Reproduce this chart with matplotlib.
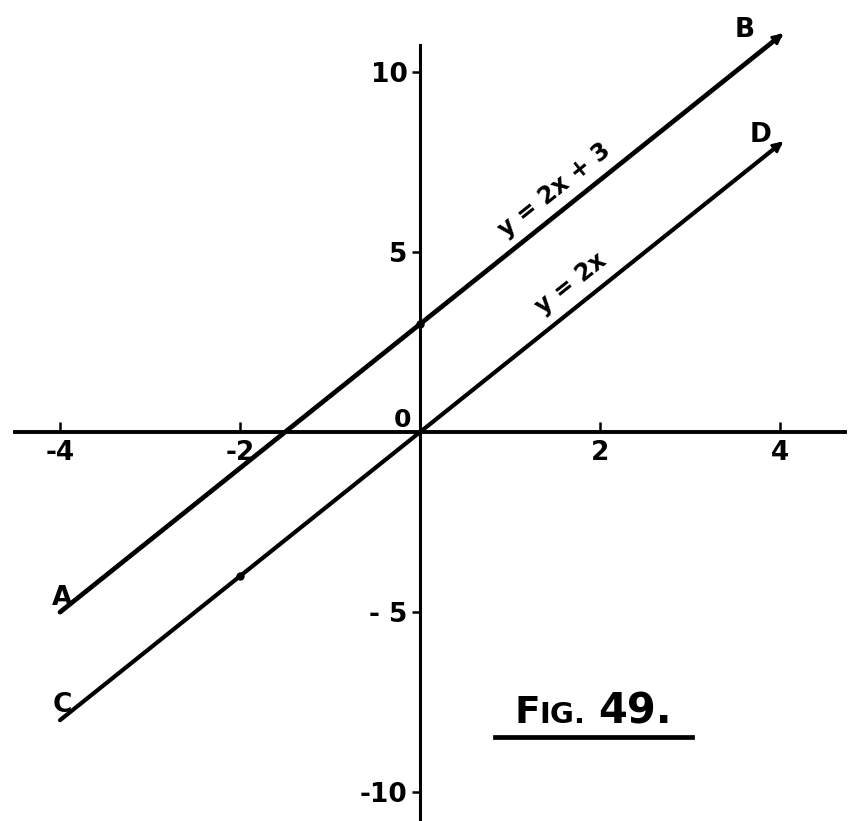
import numpy as np
import matplotlib.pyplot as plt

# two parallel lines from the figure
x_ends = [-4, 4]
y_ab = [-5, 11]     # y = 2x + 3
y_cd = [-8, 8]      # y = 2x
dot_x = [0, -2]
dot_y = [3, -4]

x_ticks = [-4, -2, 2, 4]
x_ticklabels = ['-4', '-2', '2', '4']
y_ticks = [-10, -5, 5, 10]
y_ticklabels = ['-10', '- 5', '5', '10']

plt.rcParams['font.family'] = ['DejaVu Sans']

fig = plt.figure(figsize=(8.5, 8.21), dpi=100)
ax = fig.add_axes([0, 0, 1, 1])
ax.set_xlim(-4.667, 4.778)
ax.set_ylim(-10.8, 12.0)

for s in ['top', 'right']:
    ax.spines[s].set_visible(False)
ax.spines['left'].set_position(('data', 0))
ax.spines['bottom'].set_position(('data', 0))
ax.spines['left'].set_bounds(-10.8, 10.75)
ax.spines['bottom'].set_bounds(-4.5, 4.72)
ax.spines['left'].set_linewidth(2.2)
ax.spines['bottom'].set_linewidth(2.8)

ax.set_xticks(x_ticks, x_ticklabels)
ax.set_yticks(y_ticks, y_ticklabels)
ax.tick_params(axis='x', direction='in', length=7, width=1.8, pad=6, labelsize=19)
ax.tick_params(axis='y', direction='out', length=6, width=1.8, pad=3, labelsize=19)
for lab in ax.get_xticklabels() + ax.get_yticklabels():
    lab.set_fontweight('bold')

ax.plot(x_ends, y_ab, color='black', lw=3.4, solid_capstyle='round')
ax.plot(x_ends, y_cd, color='black', lw=3.0, solid_capstyle='round')
ax.plot(dot_x, dot_y, 'o', color='black', ms=5)

# arrowheads at B and D
for ys in (y_ab, y_cd):
    ax.annotate('', xy=(x_ends[1] + 0.06, ys[1] + 0.12), xytext=(x_ends[1] - 0.2, ys[1] - 0.4),
                arrowprops=dict(arrowstyle='-|>', color='black', lw=2, mutation_scale=15))

# point labels
lab_kw = dict(fontsize=19, ha='center', va='center', fontweight='bold')
ax.text(-3.98, -4.6, 'A', **lab_kw)
ax.text(3.61, 11.17, 'B', **lab_kw)
ax.text(-3.97, -7.58, 'C', **lab_kw)
ax.text(3.78, 8.25, 'D', **lab_kw)
ax.text(-0.19, 0.33, '0', fontsize=18, ha='center', va='center', fontweight='bold')

# equations along the lines
ang = np.degrees(np.arctan2(2 * 36, 90))
ax.text(1.5, 6.72, 'y = 2x + 3', fontsize=17, rotation=ang, ha='center', va='center',
        rotation_mode='anchor', fontweight='bold')
ax.text(1.68, 4.12, 'y = 2x', fontsize=17, rotation=ang, ha='center', va='center',
        rotation_mode='anchor', fontweight='bold')

# figure caption
ax.text(1.05, -8.08, 'F', fontsize=27, ha='left', va='baseline', fontweight='bold')
ax.text(1.33, -8.08, 'IG.', fontsize=21, ha='left', va='baseline', fontweight='bold')
ax.text(1.98, -8.08, '49.', fontsize=30, ha='left', va='baseline', fontweight='bold')
ax.plot([0.83, 3.02], [-8.47, -8.47], color='black', lw=3.4)

fig.savefig('out.png', dpi=100)
